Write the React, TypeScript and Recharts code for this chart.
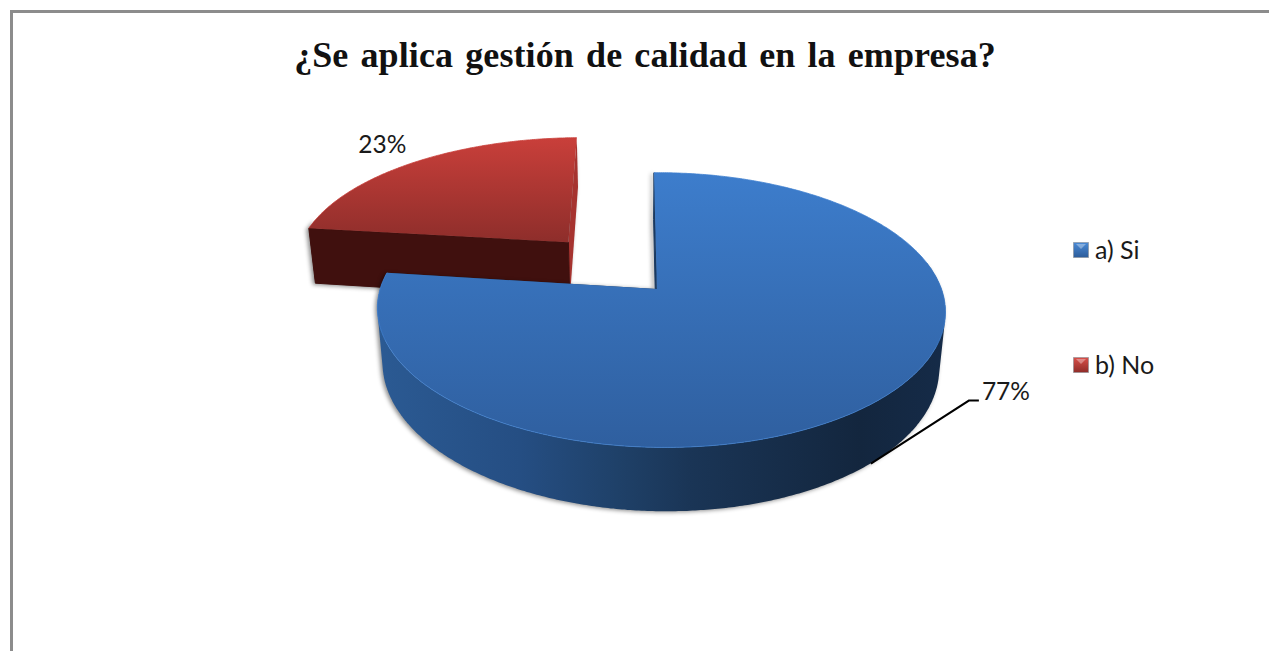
import { PieChart, Pie, Legend } from 'recharts';

// Slices are listed back to front so the big slice paints over the small one
const categories = ['b) No', 'a) Si'];
const shares = [23, 77];
const legendOrder = ['a) Si', 'b) No'];
const chartTitle = '¿Se aplica gestión de calidad en la empresa?';

const slices = categories.map((name, i) => ({ name, value: shares[i] }));

const TILT = 134 / 280;
const PERSPECTIVE_Y = 0.153;
const PERSPECTIVE_X = 0.014;
const WALL_TAPER = 0.98;

// Pulled-out distance of each slice on the pie's plane, in radius units
const explode: Record<string, { ox: number; oy: number; sx: number; depth: number }> = {
  'b) No': { ox: -0.252, oy: -0.37, sx: 1.03, depth: 60 },
  'a) Si': { ox: 0.078, oy: 0, sx: 1, depth: 54 },
};

const looks: Record<string, any> = {
  'a) Si': {
    id: 'si',
    legend: ['#4a8ad6', '#2c5c9a'],
    top: ['#3d7dcc', '#2f5f9f'],
    topY: [173, 447],
    wall: [
      [0, '#2b5a93'],
      [0.25, '#254e83'],
      [0.42, '#1f4169'],
      [0.55, '#1a3556'],
      [0.85, '#13263e'],
      [1, '#152b48'],
    ],
    wallX: [378, 945],
    edge: '#1b3a60',
    radial: '#1b3a60',
    rim: '#3f80d0',
  },
  'b) No': {
    id: 'no',
    legend: ['#d9504a', '#8f2c28'],
    top: ['#c93f3a', '#8f2e2b'],
    topY: [138, 240],
    wall: [
      [0, '#40100e'],
      [1, '#40100e'],
    ],
    wallX: [305, 575],
    edge: '#a6332f',
    radial: '#40100e',
    rim: '#c93f3a',
  },
};

type Pt = { x: number; y: number; d: number };

function project(cx: number, cy: number, r: number, px: number, py: number): Pt {
  const d = 1 - PERSPECTIVE_Y * py - PERSPECTIVE_X * px;
  return { x: cx + (r * px) / d, y: cy + (r * TILT * py) / d, d };
}

function lowered(cx: number, name: string, p: Pt): Pt {
  return { x: cx + (p.x - cx) * WALL_TAPER, y: p.y + explode[name].depth / p.d, d: p.d };
}

function rimPoint(cx: number, cy: number, r: number, name: string, deg: number) {
  const { ox, oy, sx } = explode[name];
  const a = (deg * Math.PI) / 180;
  return project(cx, cy, r, ox + sx * Math.cos(a), oy - Math.sin(a));
}

const toPath = (pts: { x: number; y: number }[]) =>
  pts.map((p, i) => `${i ? 'L' : 'M'}${p.x.toFixed(1)} ${p.y.toFixed(1)}`).join(' ') + ' Z';

// Wound the same way every time, so overlapping quads stay filled under nonzero
function quadPath(q: Pt[]) {
  let area = 0;
  q.forEach((p, i) => {
    const n = q[(i + 1) % q.length];
    area += p.x * n.y - n.x * p.y;
  });
  return toPath(area < 0 ? [...q].reverse() : q);
}

function Slice3D(props: any) {
  const { cx, cy, outerRadius: r, startAngle, endAngle, name, payload } = props;
  const key = name ?? payload?.name;
  const look = looks[key];
  const { ox, oy } = explode[key];
  const apex = project(cx, cy, r, ox, oy);

  const arc: Pt[] = [];
  const wallQuads: string[] = [];
  const steps = Math.ceil(Math.abs(endAngle - startAngle) * 2);
  for (let i = 0; i <= steps; i++) {
    const deg = startAngle + ((endAngle - startAngle) * i) / steps;
    const p = rimPoint(cx, cy, r, key, deg);
    const prev = arc[arc.length - 1];
    // Only the part of the rim facing the viewer gets a wall
    if (prev && Math.sin((deg * Math.PI) / 180) < 0.2) {
      wallQuads.push(quadPath([prev, p, lowered(cx, key, p), lowered(cx, key, prev)]));
    }
    arc.push(p);
  }
  const first = arc[0];
  const last = arc[arc.length - 1];
  const wallA = [apex, first, lowered(cx, key, first), lowered(cx, key, apex)];
  const wallB = [apex, last, lowered(cx, key, last), lowered(cx, key, apex)];

  return (
    <g>
      <defs>
        <linearGradient id={`top-${look.id}`} gradientUnits="userSpaceOnUse" x1="0" x2="0" y1={look.topY[0]} y2={look.topY[1]}>
          <stop offset="0" stopColor={look.top[0]} />
          <stop offset="1" stopColor={look.top[1]} />
        </linearGradient>
        <linearGradient id={`wall-${look.id}`} gradientUnits="userSpaceOnUse" x1={look.wallX[0]} x2={look.wallX[1]} y1="0" y2="0">
          {look.wall.map(([o, c]: [number, string]) => (
            <stop key={o} offset={o} stopColor={c} />
          ))}
        </linearGradient>
      </defs>
      <g style={{ filter: 'drop-shadow(-2px 1px 2px rgba(0,0,0,0.45))' }}>
        <path d={toPath(wallB)} fill={look.edge} />
        <path d={toPath(wallA)} fill={look.radial} stroke={look.radial} strokeWidth={1} />
        <path d={wallQuads.join(' ')} fill={`url(#wall-${look.id})`} />
      </g>
      <path d={toPath([apex, ...arc])} fill={`url(#top-${look.id})`} />
      <path
        d={toPath(arc).replace(' Z', '')}
        fill="none"
        stroke={look.rim}
        strokeWidth={1}
        strokeOpacity={0.8}
      />
    </g>
  );
}

function SliceLabel(props: any) {
  const { cx, cy, outerRadius, midAngle, name, value } = props;
  const key = name ?? props.payload?.name;
  const p = rimPoint(cx, cy, outerRadius, key, midAngle);
  const text = `${value}%`;
  const font = { fontFamily: 'Lato, sans-serif', fontSize: 24.5, fill: '#1a1a1a' };

  if (key === 'a) Si') {
    // Callout from the foot of the wall out to the label
    const foot = lowered(cx, key, p);
    const start = { x: foot.x + 4, y: foot.y - 2 };
    const elbow = { x: start.x + 98, y: start.y - 63 };
    return (
      <g>
        <polyline
          points={`${start.x},${start.y} ${elbow.x},${elbow.y} ${elbow.x + 10},${elbow.y}`}
          fill="none"
          stroke="#000"
          strokeWidth={2}
        />
        <text x={elbow.x + 13} y={elbow.y - 7} dominantBaseline="middle" {...font}>
          {text}
        </text>
      </g>
    );
  }
  return (
    <text x={p.x - 32} y={p.y - 15} textAnchor="middle" dominantBaseline="middle" {...font}>
      {text}
    </text>
  );
}

function LegendBox({ payload }: any) {
  const items = [...(payload ?? [])].sort(
    (a: any, b: any) => legendOrder.indexOf(a.value) - legendOrder.indexOf(b.value),
  );
  return (
    <div>
      {items.map((item: any) => {
        const look = looks[item.value];
        return (
          <div
            key={item.value}
            style={{ display: 'flex', alignItems: 'center', height: 30, marginBottom: 85 }}
          >
            <svg width={16} height={16} style={{ marginRight: 6 }}>
              <defs>
                <linearGradient id={`key-${look.id}`} x1="0" x2="0" y1="0" y2="1">
                  <stop offset="0" stopColor={look.legend[0]} />
                  <stop offset="1" stopColor={look.legend[1]} />
                </linearGradient>
              </defs>
              <rect x={0.5} y={0.5} width={15} height={15} fill={`url(#key-${look.id})`} stroke="#8a8f96" strokeOpacity={0.6} />
              <path d="M3 2 H13 L8 7 Z" fill="#fff" fillOpacity={0.35} />
            </svg>
            <span style={{ fontFamily: 'Lato, sans-serif', fontSize: 25, color: '#1a1a1a', position: 'relative', top: -1 }}>
              {item.value}
            </span>
          </div>
        );
      })}
    </div>
  );
}

export default function App() {
  return (
    <div style={{ position: 'absolute', left: 0, top: 0, width: 1269, height: 651, background: '#fff', overflow: 'hidden' }}>
      <div
        style={{
          position: 'absolute',
          left: 10,
          top: 10,
          width: 1300,
          height: 700,
          borderTop: '3px solid #8c8c8c',
          borderLeft: '3px solid #8c8c8c',
        }}
      />
      <div
        style={{
          position: 'absolute',
          left: 0,
          width: 1290,
          top: 34,
          textAlign: 'center',
          fontFamily: '"Liberation Serif", serif',
          fontWeight: 700,
          fontSize: 36,
          letterSpacing: 0.1,
          wordSpacing: 3,
          color: '#111',
          whiteSpace: 'nowrap',
        }}
      >
        {chartTitle}
      </div>
      <PieChart width={1269} height={651} margin={{ top: 0, right: 0, bottom: 0, left: 0 }} style={{ position: 'absolute', left: 0, top: 0 }}>
        <Pie
          data={slices}
          dataKey="value"
          nameKey="name"
          cx={635}
          cy={289}
          innerRadius={0}
          outerRadius={280}
          startAngle={172.8}
          endAngle={-187.2}
          stroke="none"
          shape={Slice3D}
          label={SliceLabel}
          labelLine={false}
          isAnimationActive={false}
        />
        <Legend
          content={LegendBox}
          layout="vertical"
          wrapperStyle={{ position: 'absolute', left: 1073, top: 235, width: 150, bottom: 'auto', right: 'auto' }}
        />
      </PieChart>
    </div>
  );
}
